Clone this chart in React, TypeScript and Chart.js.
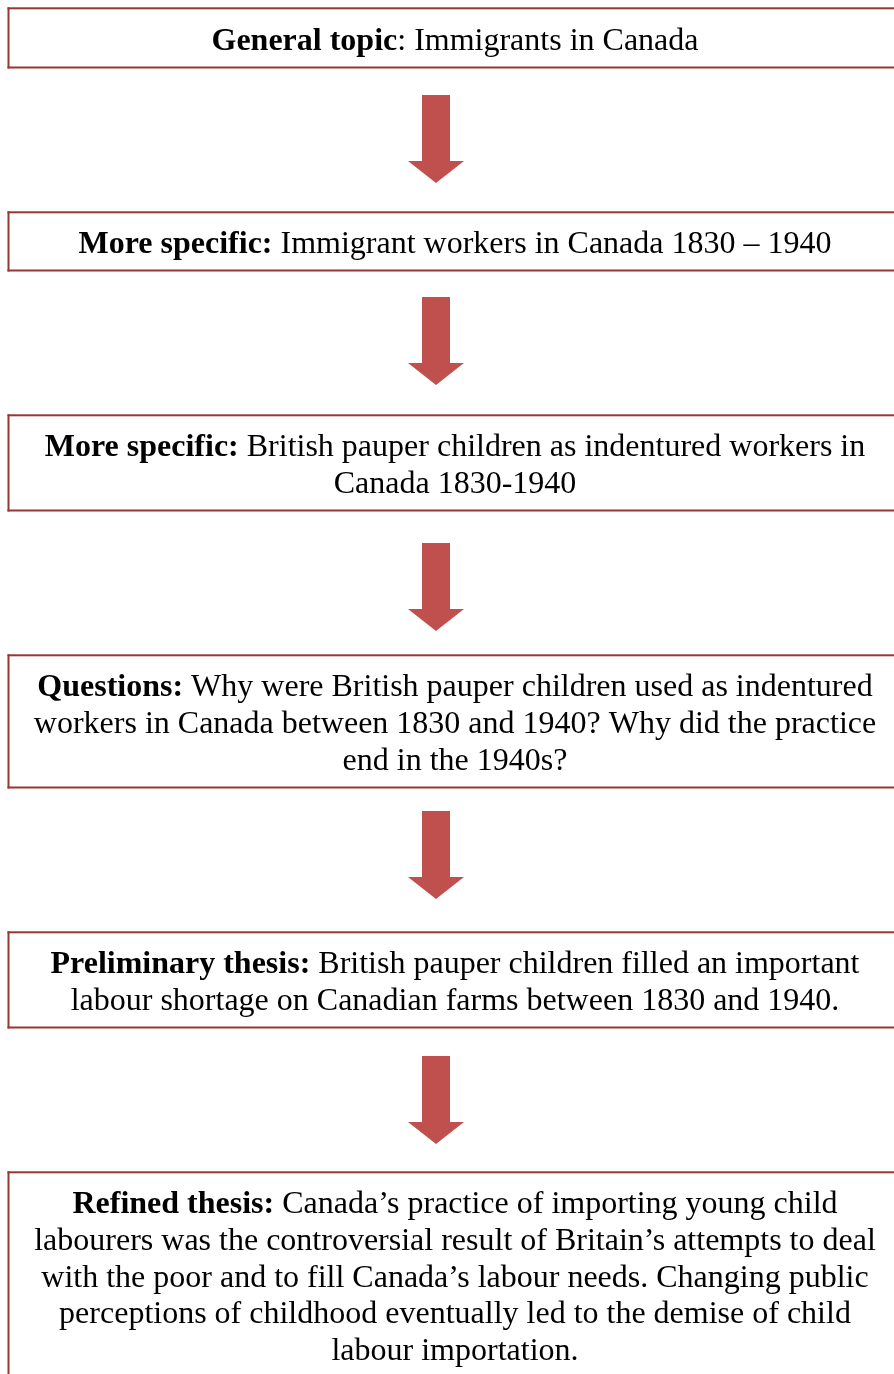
import React, { useEffect, useRef } from "react";
import { Chart, registerables } from "chart.js";

Chart.register(...registerables);

// Content of the flow chart (one entry per box)
const boxLabels = [
  "General topic",
  "More specific:",
  "More specific:",
  "Questions:",
  "Preliminary thesis:",
  "Refined thesis:",
];
const boxFirstLineRest = [
  ": Immigrants in Canada",
  " Immigrant workers in Canada 1830 \u2013 1940",
  " British pauper children as indentured workers in",
  " Why were British pauper children used as indentured",
  " British pauper children filled an important",
  " Canada\u2019s practice of importing young child",
];
const boxMoreLines = [
  [],
  [],
  ["Canada 1830-1940"],
  ["workers in Canada between 1830 and 1940? Why did the practice", "end in the 1940s?"],
  ["labour shortage on Canadian farms between 1830 and 1940."],
  [
    "labourers was the controversial result of Britain\u2019s attempts to deal",
    "with the poor and to fill Canada\u2019s labour needs. Changing public",
    "perceptions of childhood eventually led to the demise of child",
    "labour importation.",
  ],
];

// Vertical extent of each box (page units, top -> bottom)
const boxTops = [8, 212, 415, 655, 932, 1172];
const boxBottoms = [68, 271, 511, 788, 1028, 1420];
const firstBaselines = [50, 253, 456, 696, 973, 1213];
// Arrows between boxes
const arrowTops = [95, 297, 543, 811, 1056];
const arrowBottoms = [183, 385, 631, 899, 1144];

const W = 894;
const H = 1374;

const flowPlugin = {
  id: "flow",
  afterDraw(chart: any) {
    const ctx = chart.ctx;
    const xs = chart.scales.x;
    const ys = chart.scales.y;
    const px = (v: number) => xs.getPixelForValue(v);
    const py = (v: number) => ys.getPixelForValue(v);
    ctx.save();
    const FONT_SIZE = 32;
    const LINE_H = 36.8;
    const regular = `${FONT_SIZE}px "Liberation Serif", "Times New Roman", serif`;
    const bold = `bold ${FONT_SIZE}px "Liberation Serif", "Times New Roman", serif`;
    const cx = px(455);

    // boxes
    boxTops.forEach((top, i) => {
      const bottom = boxBottoms[i];
      ctx.fillStyle = "#953735";
      const x0 = px(7.5);
      const x1 = px(905);
      const t = py(top - 0.7);
      const b = py(bottom + 0.5);
      const bw = 2;
      ctx.fillRect(x0, t, x1 - x0, bw); // top
      ctx.fillRect(x0, b - bw, x1 - x0, bw); // bottom
      ctx.fillRect(x0, t, bw, b - t); // left

      ctx.fillStyle = "#000";
      ctx.textBaseline = "alphabetic";
      ctx.font = bold;
      const lw = ctx.measureText(boxLabels[i]).width;
      ctx.font = regular;
      const rw = ctx.measureText(boxFirstLineRest[i]).width;
      const start = cx - (lw + rw) / 2;
      const base0 = py(firstBaselines[i]);
      ctx.font = bold;
      ctx.textAlign = "left";
      ctx.fillText(boxLabels[i], start, base0);
      ctx.font = regular;
      ctx.fillText(boxFirstLineRest[i], start + lw, base0);
      ctx.textAlign = "center";
      boxMoreLines[i].forEach((ln: string, j: number) => {
        ctx.fillText(ln, cx, py(firstBaselines[i] + (j + 1) * LINE_H));
      });
    });

    // arrows
    arrowTops.forEach((t, i) => {
      const b = arrowBottoms[i];
      const ac = 436;
      const headH = 22;
      ctx.fillStyle = "#C0504D";
      ctx.beginPath();
      ctx.moveTo(px(ac - 14), py(t));
      ctx.lineTo(px(ac + 14), py(t));
      ctx.lineTo(px(ac + 14), py(b - headH));
      ctx.lineTo(px(ac + 28), py(b - headH));
      ctx.lineTo(px(ac), py(b));
      ctx.lineTo(px(ac - 28), py(b - headH));
      ctx.lineTo(px(ac - 14), py(b - headH));
      ctx.closePath();
      ctx.fill();
    });
    ctx.restore();
  },
};

export default function App() {
  const ref = useRef<HTMLCanvasElement | null>(null);
  useEffect(() => {
    document.body.style.margin = "0";
    const canvas = ref.current!;
    const chart = new Chart(canvas, {
      type: "scatter",
      data: { datasets: [{ data: [], pointRadius: 0 }] },
      options: {
        responsive: false,
        animation: false,
        devicePixelRatio: 1,
        layout: { padding: 0 },
        plugins: { legend: { display: false }, tooltip: { enabled: false } },
        scales: {
          x: { type: "linear", min: 0, max: W, display: false },
          y: { type: "linear", min: 0, max: H, reverse: true, display: false },
        },
      },
      plugins: [flowPlugin],
    });
    return () => chart.destroy();
  }, []);
  return (
    <div style={{ width: W, height: H, overflow: "hidden", background: "#fff" }}>
      <canvas ref={ref} width={W} height={H} style={{ display: "block" }} />
    </div>
  );
}
